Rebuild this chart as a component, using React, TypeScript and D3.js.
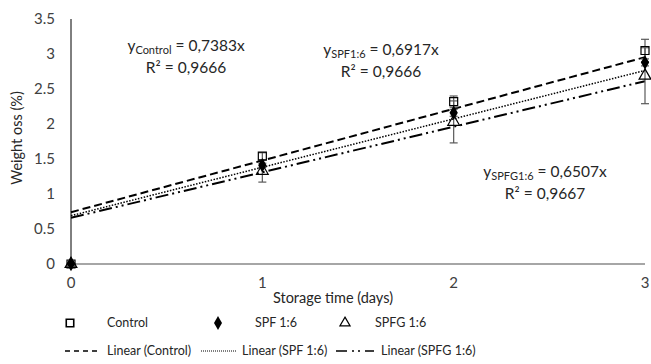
import React, { useEffect, useRef } from 'react';
import * as d3 from 'd3';

const days = [0, 1, 2, 3];
const controlValues = [0, 1.54, 2.32, 3.05];
const spfValues = [0, 1.41, 2.16, 2.88];
const spfgValues = [0, 1.33, 2.03, 2.69];
const controlErr = [0, 0.05, 0.08, 0.16];
const spfErr = [0, 0.03, 0.05, 0.05];
const spfgErr = [0, 0.16, 0.3, 0.4];

// trend lines as drawn: [intercept, slope]
const controlTrend = [0.74, 0.7383];
const spfTrend = [0.69, 0.6917];
const spfgTrend = [0.66, 0.6507];

const yTicks = [0, 0.5, 1, 1.5, 2, 2.5, 3, 3.5];
const xTicks = [0, 1, 2, 3];

const FONT = "Lato, 'Open Sans', sans-serif";

const Chart: React.FC = () => {
  const svgRef: any = useRef<SVGSVGElement>(null);

  useEffect(() => {
    const svg = d3.select(svgRef.current);
    svg.selectAll('*').remove();

    const x = d3.scaleLinear().domain([0, 3]).range([71, 645]);
    const y = d3.scaleLinear().domain([0, 3.5]).range([264, 19]);

    // axes
    svg.append('line').attr('x1', 71).attr('x2', 645).attr('y1', y(0)).attr('y2', y(0))
      .attr('stroke', '#898989').attr('stroke-width', 1.5);
    svg.append('line').attr('x1', 71).attr('x2', 71).attr('y1', y(3.5)).attr('y2', y(0))
      .attr('stroke', '#000').attr('stroke-width', 1);

    svg.selectAll('.ytick').data(yTicks).join('text')
      .attr('x', 55).attr('y', d => y(d) + 5)
      .attr('text-anchor', 'end').attr('font-size', 15).attr('font-family', FONT)
      .attr('fill', '#404040').text(d => String(d));

    svg.selectAll('.xtick').data(xTicks).join('text')
      .attr('x', d => x(d)).attr('y', 288)
      .attr('text-anchor', 'middle').attr('font-size', 15).attr('font-family', FONT)
      .attr('fill', '#404040').text(d => String(d));

    svg.append('text').attr('x', 333).attr('y', 303).attr('text-anchor', 'middle')
      .attr('font-size', 14.5).attr('font-family', FONT).attr('fill', '#262626')
      .text('Storage time (days)');
    svg.append('text').attr('transform', 'translate(22,138) rotate(-90)')
      .attr('text-anchor', 'middle').attr('font-size', 14.5).attr('font-family', FONT)
      .attr('fill', '#262626').text('Weight oss (%)');

    // trend lines
    const trends = [
      { t: controlTrend, dash: '8,4', w: 2 },
      { t: spfTrend, dash: '1.5,1.5', w: 1.5 },
      { t: spfgTrend, dash: '13,4,2,4,2,4', w: 2 },
    ];
    trends.forEach(tr => {
      svg.append('line')
        .attr('x1', x(0)).attr('y1', y(tr.t[0]))
        .attr('x2', x(3)).attr('y2', y(tr.t[0] + tr.t[1] * 3))
        .attr('stroke', '#000').attr('stroke-width', tr.w)
        .attr('stroke-dasharray', tr.dash);
    });

    // error bars
    const errSets = [
      { v: controlValues, e: controlErr },
      { v: spfValues, e: spfErr },
      { v: spfgValues, e: spfgErr },
    ];
    errSets.forEach(s => {
      days.forEach((d, i) => {
        if (s.e[i] <= 0) return;
        const cx = x(d);
        const y1 = y(s.v[i] - s.e[i]);
        const y2 = y(s.v[i] + s.e[i]);
        svg.append('line').attr('x1', cx).attr('x2', cx).attr('y1', y1).attr('y2', y2)
          .attr('stroke', '#595959').attr('stroke-width', 1.2);
        [y1, y2].forEach(yy => svg.append('line').attr('x1', cx - 4).attr('x2', cx + 4)
          .attr('y1', yy).attr('y2', yy).attr('stroke', '#595959').attr('stroke-width', 1.2));
      });
    });

    const sym = (type: any, size: number) => d3.symbol().type(type).size(size)();

    // markers
    svg.selectAll('.sq').data(days).join('path')
      .attr('d', sym(d3.symbolSquare, 64))
      .attr('transform', (d, i) => `translate(${x(d)},${y(controlValues[i])})`)
      .attr('fill', 'none').attr('stroke', '#000').attr('stroke-width', 1.2);
    svg.selectAll('.tri').data(days).join('path')
      .attr('d', sym(d3.symbolTriangle, 60))
      .attr('transform', (d, i) => `translate(${x(d)},${y(spfgValues[i])})`)
      .attr('fill', 'none').attr('stroke', '#000').attr('stroke-width', 1.2);
    svg.selectAll('.dia').data(days).join('path')
      .attr('d', sym(d3.symbolDiamond, 60))
      .attr('transform', (d, i) => `translate(${x(d)},${y(spfValues[i])})`)
      .attr('fill', '#000');

    // annotations
    const eq = (cx: number, cy: number, sub: string, rest: string, r2: string) => {
      const t = svg.append('text').attr('x', cx).attr('y', cy).attr('text-anchor', 'middle')
        .attr('font-size', 15.5).attr('font-family', FONT).attr('fill', '#262626');
      t.append('tspan').text('y');
      t.append('tspan').attr('font-size', 11).attr('dy', 3).text(sub);
      t.append('tspan').attr('dy', -3).text(rest);
      svg.append('text').attr('x', cx).attr('y', cy + 22).attr('text-anchor', 'middle')
        .attr('font-size', 15.5).attr('font-family', FONT).attr('fill', '#262626').text(r2);
    };
    eq(186, 51, 'Control', ' = 0,7383x', 'R² = 0,9666');
    eq(381, 55, 'SPF1:6', ' = 0,6917x', 'R² = 0,9666');
    eq(545, 177, 'SPFG1:6', ' = 0,6507x', 'R² = 0,9667');

    // legend
    const lg = svg.append('g').attr('font-family', FONT).attr('font-size', 12.5).attr('fill', '#262626');
    const r1 = 327;
    lg.append('path').attr('d', sym(d3.symbolSquare, 56)).attr('transform', `translate(70,${r1 - 4})`)
      .attr('fill', 'none').attr('stroke', '#000').attr('stroke-width', 1.6);
    lg.append('path').attr('d', sym(d3.symbolDiamond, 55)).attr('transform', `translate(218,${r1 - 4})`)
      .attr('fill', '#000');
    lg.append('path').attr('d', sym(d3.symbolTriangle, 45)).attr('transform', `translate(345,${r1 - 4})`)
      .attr('fill', 'none').attr('stroke', '#000').attr('stroke-width', 1.2);
    const names1 = ['Control', 'SPF 1:6', 'SPFG 1:6'];
    const textX1 = [107, 255, 375];
    names1.forEach((n, i) => lg.append('text').attr('x', textX1[i]).attr('y', r1).text(n));

    const r2 = 355;
    const legLines = [
      { x1: 65, x2: 98, dash: '5,4', w: 1.6, tx: 107, label: 'Linear (Control)' },
      { x1: 201, x2: 236, dash: '1,1', w: 1.1, tx: 242, label: 'Linear (SPF 1:6)' },
      { x1: 336, x2: 374, dash: '11,5,2,4,2,5', w: 1.6, tx: 381, label: 'Linear (SPFG 1:6)' },
    ];
    legLines.forEach(l => {
      lg.append('line').attr('x1', l.x1).attr('x2', l.x2).attr('y1', r2 - 4).attr('y2', r2 - 4)
        .attr('stroke', '#000').attr('stroke-width', l.w).attr('stroke-dasharray', l.dash);
      lg.append('text').attr('x', l.tx).attr('y', r2).text(l.label);
    });
  }, []);

  return <svg ref={svgRef} width={651} height={364} style={{ display: 'block' }}></svg>;
};

export default function App() {
  return (
    <div style={{ position: 'absolute', left: 0, top: 0, background: '#fff' }}>
      <Chart />
    </div>
  );
}
